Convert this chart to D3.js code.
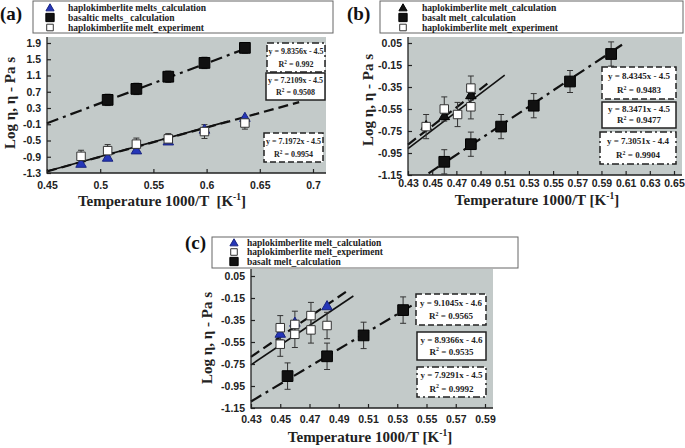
<!DOCTYPE html>
<html>
<head>
<meta charset="utf-8">
<script src="https://cdn.jsdelivr.net/npm/d3@7"></script>
<style>
  body { margin: 0; background: #fff; }
  text { white-space: pre; }
</style>
</head>
<body>
<svg width="685" height="448"></svg>
<script>
// ---- panel (a) data
const aHaploX = [0.482, 0.507, 0.534, 0.564, 0.598, 0.636];
const aHaploCalc = [-1.06, -0.91, -0.73, -0.51, -0.22, 0.07];
const aHaploExp = [-0.89, -0.75, -0.59, -0.46, -0.28, -0.07];
const aHaploErr = [0.15, 0.15, 0.15, 0.13, 0.17, 0.15];
const aBasaltX = [0.507, 0.534, 0.564, 0.598, 0.636];
const aBasalt = [0.5, 0.77, 1.07, 1.41, 1.78];
const aBasaltErr = [0.14, 0.14, 0.14, 0.14, 0.13];
const aXTicks = [0.45, 0.5, 0.55, 0.6, 0.65, 0.7];
const aYTicks = [-1.3, -0.9, -0.5, -0.1, 0.3, 0.7, 1.1, 1.5, 1.9];
const aLegend = ["haplokimberlite melts_calculation", "basaltic melts_ calculation", "haplokimberlite melt_experiment"];
const aSlopes = [9.8356, 7.2109, 7.1972];
const aIntercepts = [-4.5, -4.5, -4.5];
const aR2 = ["0.992", "0.9508", "0.9954"];
const aFitRange = [[0.45, 0.64], [0.45, 0.62], [0.45, 0.687]];

// ---- panel (b) data
const bCalcX = [0.445, 0.46, 0.482];
const bCalc = [-0.7, -0.61, -0.42];
const bExpX = [0.445, 0.46, 0.471, 0.482, 0.482];
const bExp = [-0.71, -0.55, -0.6, -0.36, -0.53];
const bExpErr = [0.11, 0.11, 0.11, 0.11, 0.11];
const bBasaltX = [0.46, 0.482, 0.507, 0.534, 0.564, 0.598];
const bBasalt = [-1.03, -0.87, -0.71, -0.52, -0.3, -0.05];
const bBasaltErr = [0.11, 0.11, 0.11, 0.11, 0.1, 0.11];
const bXTicks = [0.43, 0.45, 0.47, 0.49, 0.51, 0.53, 0.55, 0.57, 0.59, 0.61, 0.63, 0.65];
const bYTicks = [-1.15, -0.95, -0.75, -0.55, -0.35, -0.15, 0.05];
const bLegend = ["haplokimberlite melt_calculation", "basalt melt_calculation", "haplokimberlite melt_experiment"];
const bSlopes = [8.4345, 8.3471, 7.3051];
const bIntercepts = [-4.5, -4.5, -4.4];
const bR2 = ["0.9483", "0.9477", "0.9904"];
const bFitRange = [[0.43, 0.497], [0.43, 0.51], [0.447, 0.607]];

// ---- panel (c) data
const cCalcX = [0.45, 0.46, 0.482];
const cCalc = [-0.47, -0.37, -0.22];
const cExpX = [0.45, 0.45, 0.46, 0.46, 0.471, 0.471, 0.482];
const cExp = [-0.42, -0.57, -0.39, -0.48, -0.31, -0.44, -0.4];
const cExpErr = [0.11, 0.11, 0.12, 0.12, 0.12, 0.12, 0.12];
const cBasaltX = [0.455, 0.482, 0.507, 0.534];
const cBasalt = [-0.86, -0.68, -0.49, -0.26];
const cBasaltErr = [0.12, 0.12, 0.12, 0.12];
const cXTicks = [0.43, 0.45, 0.47, 0.49, 0.51, 0.53, 0.55, 0.57, 0.59];
const cYTicks = [-1.15, -0.95, -0.75, -0.55, -0.35, -0.15, 0.05];
const cLegend = ["haplokimberlite melt_calculation", "haplokimberlite melt_experiment", "basalt melt_calculation"];
const cSlopes = [9.1045, 8.9366, 7.9291];
const cIntercepts = [-4.6, -4.6, -4.5];
const cR2 = ["0.9565", "0.9535", "0.9992"];
const cFitRange = [[0.43, 0.497], [0.43, 0.5], [0.43, 0.54]];

const svg = d3.select("svg");
const SERIF = "'Liberation Serif','Times New Roman',serif";
const SANS = "'Liberation Sans',Arial,sans-serif";
const BG = "#c3cac9";
const BLUE = "#2536b8";
const DASH = { solid: null, dashed: "10,5", dashdot: "12,5,3,5" };
const BOXDASH = { solid: null, dashed: "6,3", dashdot: "7,3,2,3" };

const panels = [
  {
    tag: "(a)", tagX: 0, tagY: 20,
    box: { left: 47, right: 326, top: 37, bottom: 173 },
    xDomain: [0.45, 0.7], xRange: [47, 313], yDomain: [-1.3, 1.9], yRange: [173, 43],
    xTicks: aXTicks, yTicks: aYTicks, xPad: 9,
    legend: { x: 33, y: 1, w: 300, h: 32, mx: 50, tx: 68, rows: [7.5, 17.5, 27.5], labels: aLegend,
              marks: ["blue", "black", "white"] },
    series: [
      { xs: aHaploX, ys: aHaploCalc, kind: "blue" },
      { xs: aHaploX, ys: aHaploExp, err: aHaploErr, kind: "white" },
      { xs: aBasaltX, ys: aBasalt, err: aBasaltErr, kind: "black" }
    ],
    fits: { slopes: aSlopes, intercepts: aIntercepts, ranges: aFitRange, styles: ["dashdot", "solid", "dashed"] },
    eq: { r2: aR2, size: 8, boxes: [[267, 43, 58, 29], [266, 73, 59, 27], [264, 133, 59, 29]],
          styles: ["dashdot", "solid", "dashed"] },
    xTitle: [162, 206], yTitle: [15, 103]
  },
  {
    tag: "(b)", tagX: 347, tagY: 20,
    box: { left: 408, right: 682, top: 37, bottom: 175 },
    xDomain: [0.43, 0.65], xRange: [408, 674], yDomain: [-1.15, 0.05], yRange: [175, 43],
    xTicks: bXTicks, yTicks: bYTicks, xPad: 5,
    legend: { x: 380, y: 1, w: 303, h: 32, mx: 403, tx: 422, rows: [7.5, 17.5, 27.5], labels: bLegend,
              marks: ["blacktri", "black", "white"] },
    series: [
      { xs: bCalcX, ys: bCalc, kind: "blacktri" },
      { xs: bExpX, ys: bExp, err: bExpErr, kind: "white" },
      { xs: bBasaltX, ys: bBasalt, err: bBasaltErr, kind: "black" }
    ],
    fits: { slopes: bSlopes, intercepts: bIntercepts, ranges: bFitRange, styles: ["dashed", "solid", "dashdot"] },
    eq: { r2: bR2, size: 9, boxes: [[602, 67, 74, 32], [602, 102, 74, 26], [600, 132, 76, 32]],
          styles: ["dashed", "solid", "dashdot"] },
    xTitle: [537, 205], yTitle: [373, 100]
  },
  {
    tag: "(c)", tagX: 185, tagY: 249,
    box: { left: 251, right: 493, top: 269, bottom: 408 },
    xDomain: [0.43, 0.59], xRange: [251, 485], yDomain: [-1.15, 0.05], yRange: [408, 276],
    xTicks: cXTicks, yTicks: cYTicks, xPad: 8,
    legend: { x: 212, y: 237, w: 306, h: 31, mx: 234, tx: 247, rows: [242.5, 252, 261.5], labels: cLegend,
              marks: ["blue", "white", "black"] },
    series: [
      { xs: cCalcX, ys: cCalc, kind: "blue" },
      { xs: cExpX, ys: cExp, err: cExpErr, kind: "white" },
      { xs: cBasaltX, ys: cBasalt, err: cBasaltErr, kind: "black" }
    ],
    fits: { slopes: cSlopes, intercepts: cIntercepts, ranges: cFitRange, styles: ["dashed", "solid", "dashdot"] },
    eq: { r2: cR2, size: 9, boxes: [[416, 294, 70, 31], [417, 332, 69, 28], [417, 367, 69, 30]],
          styles: ["dashed", "solid", "dashdot"] },
    xTitle: [370, 442], yTitle: [212, 338]
  }
];

function marker(sel, kind, cx, cy, small) {
  const tri = kind === "blue" || kind === "blacktri";
  const k = small ? 0.6 : 1;
  const sym = tri ? d3.symbol().type(d3.symbolTriangle).size(48 * k)
                  : d3.symbol().type(d3.symbolSquare).size((kind === "black" ? 115 : 72) * k);
  sel.append("path")
    .attr("d", sym())
    .attr("transform", `translate(${cx},${cy + (tri ? 1 : 0)})`)
    .attr("fill", kind === "blue" ? BLUE : kind === "white" ? "#fff" : "#111")
    .attr("stroke", kind === "white" ? "#333" : kind === "blue" ? "#1a2580" : "#000")
    .attr("stroke-width", 1);
}

function drawPanel(p) {
  const x = d3.scaleLinear().domain(p.xDomain).range(p.xRange);
  const y = d3.scaleLinear().domain(p.yDomain).range(p.yRange);
  const { left, right, top, bottom } = p.box;
  const g = svg.append("g");

  g.append("rect")
    .attr("x", left).attr("y", top)
    .attr("width", right - left).attr("height", bottom - top)
    .attr("fill", BG);

  // trend lines
  p.fits.slopes.forEach((s, i) => {
    const b = p.fits.intercepts[i];
    g.append("path")
      .datum(p.fits.ranges[i])
      .attr("d", d3.line().x(d => x(d)).y(d => y(s * d + b)))
      .attr("fill", "none")
      .attr("stroke", "#111")
      .attr("stroke-width", p.fits.styles[i] === "solid" ? 1.6 : 2.2)
      .attr("stroke-dasharray", DASH[p.fits.styles[i]]);
  });

  // error bars
  p.series.filter(s => s.err).forEach(s => {
    s.xs.forEach((xv, i) => {
      const px = x(xv), y0 = y(s.ys[i] - s.err[i]), y1 = y(s.ys[i] + s.err[i]);
      g.append("path")
        .attr("d", `M${px},${y0}V${y1}M${px - 3},${y0}H${px + 3}M${px - 3},${y1}H${px + 3}`)
        .attr("stroke", "#333").attr("stroke-width", 1).attr("fill", "none");
    });
  });

  // points
  p.series.forEach(s => {
    s.xs.forEach((xv, i) => marker(g, s.kind, x(xv), y(s.ys[i])));
  });

  // axes
  const fmt = d => String(d);
  const xa = g.append("g")
    .attr("transform", `translate(0,${bottom})`)
    .call(d3.axisBottom(x).tickValues(p.xTicks).tickFormat(fmt).tickSize(-4).tickSizeOuter(0).tickPadding(p.xPad));
  const ya = g.append("g")
    .attr("transform", `translate(${left},0)`)
    .call(d3.axisLeft(y).tickValues(p.yTicks).tickFormat(fmt).tickSize(-4).tickSizeOuter(0).tickPadding(6));
  [xa, ya].forEach(a => {
    a.select(".domain").remove();
    a.selectAll("line").attr("stroke", "#222").attr("stroke-width", 1.2);
    a.selectAll("text")
      .attr("font-family", SANS).attr("font-size", 10.5).attr("font-weight", "bold").attr("fill", "#222");
  });
  g.append("path")
    .attr("d", `M${left},${top}V${bottom}H${right}`)
    .attr("fill", "none").attr("stroke", "#222").attr("stroke-width", 1.3);

  // equation boxes
  p.eq.boxes.forEach((bx, i) => {
    const [bxX, bxY, w, h] = bx;
    g.append("rect")
      .attr("x", bxX).attr("y", bxY).attr("width", w).attr("height", h)
      .attr("fill", "#fff").attr("stroke", "#222").attr("stroke-width", 1.5)
      .attr("stroke-dasharray", BOXDASH[p.eq.styles[i]]);
    const s = p.fits.slopes[i], b = p.fits.intercepts[i];
    const t = g.append("text")
      .attr("font-family", SERIF).attr("font-weight", "bold").attr("font-size", p.eq.size)
      .attr("fill", "#222").attr("text-anchor", "middle");
    t.append("tspan").attr("x", bxX + w / 2).attr("y", bxY + h * 0.38)
      .text(`y = ${s.toFixed(4)}x - ${Math.abs(b).toFixed(1)}`);
    t.append("tspan").attr("x", bxX + w / 2).attr("y", bxY + h * 0.82).text("R");
    t.append("tspan").attr("font-size", p.eq.size * 0.65).attr("dy", -p.eq.size * 0.4).text("2");
    t.append("tspan").attr("dy", p.eq.size * 0.4).text(` = ${p.eq.r2[i]}`);
  });

  // legend
  const L = p.legend;
  g.append("rect")
    .attr("x", L.x).attr("y", L.y).attr("width", L.w).attr("height", L.h)
    .attr("fill", "#fff").attr("stroke", "#666").attr("stroke-width", 1);
  L.labels.forEach((lab, i) => {
    marker(g, L.marks[i], L.mx, L.rows[i], true);
    g.append("text")
      .attr("x", L.tx).attr("y", L.rows[i] + 3.3)
      .attr("font-family", SERIF).attr("font-weight", "bold").attr("font-size", 9.5)
      .attr("fill", "#222").text(lab);
  });

  // titles
  const xt = g.append("text")
    .attr("x", p.xTitle[0]).attr("y", p.xTitle[1])
    .attr("text-anchor", "middle")
    .attr("font-family", SERIF).attr("font-weight", "bold").attr("font-size", 15).attr("fill", "#222");
  xt.append("tspan").text(p.tag === "(a)" ? "Temperature 1000/T  [K" : "Temperature 1000/T [K");
  xt.append("tspan").attr("font-size", 9.5).attr("dy", -6).text("-1");
  xt.append("tspan").attr("dy", 6).text("]");

  g.append("text")
    .attr("transform", `translate(${p.yTitle[0]},${p.yTitle[1]}) rotate(-90)`)
    .attr("text-anchor", "middle")
    .attr("font-family", SERIF).attr("font-weight", "bold").attr("font-size", 15).attr("fill", "#222")
    .text("Log η, η - Pa s");

  g.append("text")
    .attr("x", p.tagX).attr("y", p.tagY)
    .attr("font-family", SERIF).attr("font-weight", "bold").attr("font-size", 19).attr("fill", "#111")
    .text(p.tag);
}

panels.forEach(drawPanel);
</script>
</body>
</html>
